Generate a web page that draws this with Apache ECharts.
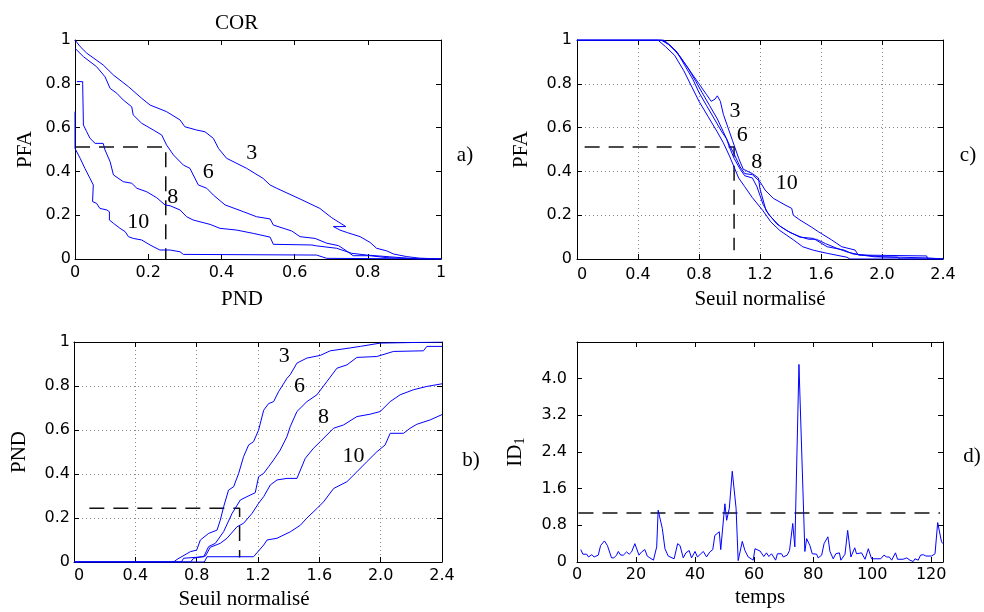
<!DOCTYPE html>
<html><head><meta charset="utf-8">
<script src="https://cdn.jsdelivr.net/npm/echarts@6/dist/echarts.min.js"></script>
<style>html,body{margin:0;padding:0;background:#fff}#c{width:984px;height:612px}</style>
</head><body><div id="c"></div>
<script>
// ---------- Panel a) COR : PFA vs PND ----------
const corCurve3 = [[0,1],[0.014,0.97],[0.032,0.94],[0.077,0.886],[0.105,0.84],[0.146,0.787],[0.182,0.734],[0.205,0.703],[0.25,0.673],[0.287,0.635],[0.3,0.604],[0.332,0.589],[0.355,0.581],[0.378,0.551],[0.392,0.505],[0.414,0.46],[0.469,0.414],[0.514,0.368],[0.533,0.338],[0.551,0.323],[0.615,0.274],[0.669,0.231],[0.701,0.189],[0.74,0.148],[0.706,0.148],[0.724,0.132],[0.745,0.12],[0.779,0.102],[0.806,0.076],[0.824,0.049],[0.852,0.037],[0.87,0.023],[0.906,0.011],[0.94,0.004],[1,0]];
const corCurve6 = [[0,0.962],[0.023,0.924],[0.059,0.878],[0.082,0.832],[0.096,0.779],[0.114,0.757],[0.132,0.726],[0.155,0.695],[0.159,0.658],[0.182,0.62],[0.214,0.589],[0.237,0.566],[0.25,0.521],[0.269,0.475],[0.296,0.429],[0.314,0.414],[0.337,0.338],[0.36,0.323],[0.378,0.292],[0.41,0.247],[0.46,0.216],[0.496,0.193],[0.533,0.183],[0.542,0.155],[0.592,0.128],[0.615,0.102],[0.656,0.094],[0.688,0.072],[0.72,0.061],[0.742,0.037],[0.76,0.015],[0.806,0.015],[0.852,0.006],[0.94,0],[1,0]];
const corCurve8 = [[0.005,0.81],[0.021,0.81],[0.021,0.798],[0.023,0.612],[0.032,0.581],[0.041,0.551],[0.055,0.528],[0.077,0.528],[0.082,0.498],[0.096,0.444],[0.105,0.384],[0.132,0.353],[0.155,0.346],[0.169,0.323],[0.196,0.307],[0.223,0.28],[0.246,0.247],[0.26,0.243],[0.287,0.224],[0.305,0.193],[0.323,0.178],[0.369,0.158],[0.396,0.14],[0.442,0.132],[0.487,0.117],[0.533,0.1],[0.542,0.067],[0.647,0.064],[0.66,0.06],[0.715,0.049],[0.756,0.026],[0.797,0.018],[0.86,0.01],[0.94,0],[1,0]];
const corCurve10 = [[0,0.673],[0,0.505],[0.005,0.498],[0.014,0.46],[0.027,0.414],[0.041,0.368],[0.05,0.338],[0.048,0.262],[0.059,0.254],[0.068,0.231],[0.087,0.224],[0.094,0.216],[0.094,0.178],[0.105,0.163],[0.123,0.14],[0.137,0.125],[0.146,0.102],[0.159,0.094],[0.182,0.087],[0.205,0.064],[0.232,0.041],[0.26,0.041],[0.287,0.033],[0.296,0.021],[0.66,0.018],[0.688,0.003],[1,0]];
const corDashed = [[0,0.511],[0.248,0.511],[0.248,0]];
const corLabelText = ['3','6','8','10'];
const corLabelAt = [[0.483,0.485],[0.364,0.394],[0.267,0.284],[0.173,0.17]];

// ---------- Panel c) PFA vs Seuil normalisé ----------
const pfaCurve3 = [[0,1],[0.55,1],[0.6,0.98],[0.65,0.95],[0.7,0.9],[0.75,0.85],[0.8,0.8],[0.85,0.75],[0.88,0.72],[0.905,0.73],[0.92,0.745],[0.94,0.72],[0.96,0.66],[0.99,0.6],[1.02,0.54],[1.06,0.46],[1.09,0.41],[1.15,0.39],[1.19,0.37],[1.2,0.32],[1.24,0.22],[1.31,0.16],[1.375,0.13],[1.46,0.1],[1.55,0.094],[1.64,0.056],[1.75,0.041],[1.81,0.023],[1.95,0.01],[2.1,0.008],[2.12,0],[2.4,0]];
const pfaCurve6 = [[0,1],[0.56,1],[0.6,0.98],[0.66,0.94],[0.71,0.88],[0.76,0.82],[0.8,0.76],[0.85,0.7],[0.9,0.64],[0.95,0.58],[0.98,0.55],[1.0,0.51],[1.03,0.46],[1.07,0.41],[1.1,0.38],[1.15,0.37],[1.18,0.33],[1.22,0.25],[1.26,0.2],[1.33,0.15],[1.4,0.12],[1.47,0.1],[1.52,0.09],[1.57,0.09],[1.63,0.07],[1.7,0.05],[1.78,0.03],[1.85,0.02],[2.0,0.01],[2.3,0.005],[2.4,0]];
const pfaCurve8 = [[0,1],[0.53,1],[0.58,0.97],[0.64,0.93],[0.7,0.86],[0.75,0.79],[0.8,0.72],[0.86,0.65],[0.92,0.58],[0.96,0.53],[1.0,0.47],[1.03,0.42],[1.06,0.37],[1.1,0.33],[1.15,0.28],[1.22,0.22],[1.27,0.17],[1.33,0.13],[1.42,0.087],[1.48,0.056],[1.55,0.04],[1.64,0.026],[1.77,0.008],[1.79,0],[2.4,0]];
const pfaCurve10 = [[0,1],[0.57,1],[0.62,0.97],[0.68,0.92],[0.73,0.87],[0.78,0.81],[0.82,0.76],[0.87,0.7],[0.92,0.64],[0.96,0.58],[1.0,0.52],[1.03,0.48],[1.07,0.42],[1.1,0.39],[1.15,0.385],[1.2,0.353],[1.233,0.315],[1.287,0.277],[1.364,0.247],[1.408,0.231],[1.418,0.2],[1.462,0.178],[1.539,0.145],[1.582,0.125],[1.67,0.087],[1.736,0.056],[1.823,0.041],[1.845,0.018],[2.293,0.014],[2.3,0],[2.4,0]];
const pfaDashed = [[0.05,0.511],[1.03,0.511],[1.03,0.04]];
const pfaLabelText = ['3','6','8','10'];
const pfaLabelAt = [[1.036,0.676],[1.084,0.563],[1.178,0.44],[1.375,0.348]];

// ---------- Panel b) PND vs Seuil normalisé ----------
const pndCurve3 = [[0,0],[0.65,0],[0.672,0.012],[0.759,0.047],[0.8,0.054],[0.824,0.1],[0.878,0.13],[0.933,0.145],[0.954,0.19],[0.976,0.251],[1.008,0.327],[1.041,0.342],[1.074,0.403],[1.106,0.479],[1.139,0.532],[1.171,0.547],[1.204,0.6],[1.237,0.69],[1.269,0.72],[1.302,0.729],[1.334,0.774],[1.389,0.835],[1.41,0.851],[1.454,0.904],[1.519,0.927],[1.606,0.939],[1.671,0.96],[1.801,0.973],[1.867,0.98],[1.997,0.995],[2.236,0.998],[2.4,1]];
const pndCurve6 = [[0,0],[0.7,0],[0.715,0.017],[0.846,0.024],[0.878,0.07],[0.922,0.085],[0.976,0.138],[1.031,0.221],[1.085,0.282],[1.128,0.297],[1.182,0.315],[1.204,0.388],[1.237,0.403],[1.269,0.433],[1.302,0.464],[1.345,0.509],[1.389,0.57],[1.41,0.615],[1.454,0.684],[1.519,0.729],[1.584,0.76],[1.649,0.82],[1.715,0.881],[1.78,0.896],[1.845,0.93],[1.975,0.934],[2.083,0.957],[2.279,0.96],[2.301,0.98],[2.4,0.98]];
const pndCurve8 = [[0,0],[0.76,0],[0.78,0.017],[0.857,0.027],[0.889,0.067],[0.954,0.085],[0.998,0.108],[1.063,0.16],[1.106,0.176],[1.161,0.221],[1.204,0.267],[1.237,0.297],[1.28,0.35],[1.324,0.373],[1.389,0.38],[1.454,0.38],[1.508,0.471],[1.562,0.517],[1.606,0.547],[1.693,0.608],[1.758,0.623],[1.845,0.661],[1.932,0.672],[1.997,0.684],[2.062,0.729],[2.127,0.76],[2.214,0.783],[2.301,0.798],[2.4,0.81]];
const pndCurve10 = [[0,0],[0.85,0],[0.868,0.024],[1.171,0.024],[1.237,0.077],[1.259,0.1],[1.324,0.108],[1.41,0.137],[1.476,0.167],[1.519,0.2],[1.584,0.243],[1.627,0.273],[1.693,0.334],[1.78,0.365],[1.845,0.41],[1.91,0.456],[1.975,0.501],[2.029,0.532],[2.062,0.585],[2.149,0.585],[2.192,0.608],[2.236,0.626],[2.323,0.646],[2.4,0.67]];
const pndDashed = [[0.1,0.244],[1.08,0.244],[1.08,0.02]];
const pndLabelText = ['3','6','8','10'];
const pndLabelAt = [[1.371,0.937],[1.471,0.8],[1.627,0.656],[1.823,0.482]];

// ---------- Panel d) ID1 vs temps ----------
const idTime = [1.3,2,3.3,3.9,5,5.8,7.2,8,9.3,10.3,
 11.7,12.5,13.4,14,14.8,15.7,16.8,17.7,18.5,19.6,
 21,21.9,23,23.8,24.7,25.9,27,27.5,28.9,29.8,
 30.9,32.9,34.1,34.9,36,36.9,38,38.8,40,40.8,
 42.8,43.9,45,46,46.7,48.2,48.7,50.1,50.7,51.6,
 52.6,53.9,54.6,56,56.9,58,58.6,59.7,60.3,62,
 63.3,64.2,65,65.9,67.3,67.9,69.3,69.9,71.2,72,
 73.1,73.8,75.2,77.2,77.8,78.9,79.7,81.2,81.7,82.9,
 83.7,85,85.7,86.8,87.7,88.9,89.4,90.8,91.7,92.8,
 94.1,94.7,96.4,97.6,98.1,98.7,99.8,102.9,104,104.9,
 105.8,106.6,107.9,108.6,110.5,111.7,112.8,113.9,114.5,115.6,
 116.4,117.3,118.2,120.1,121.3,122.2,123.5,124];
const idValue = [0.27,0.17,0.17,0.11,0.16,0.11,0.15,0.36,0.46,0.36,
 0.09,0.09,0.15,0.23,0.15,0.15,0.22,0.17,0.22,0.4,
 0.15,0.22,0.27,0.13,0.09,0.04,0.33,1.13,0.73,0.29,
 0.13,0.07,0.4,0.36,0.09,0.2,0.25,0.09,0.23,0.11,
 0.23,0.11,0.22,0.27,0.58,0.66,0.27,1.27,0.91,1.17,
 1.98,1.17,0.03,0.45,0.25,0.11,0.15,0.04,0.29,0.24,
 0.12,0.2,0.12,0.18,0.04,0.18,0.18,0.11,0.15,0.25,
 0.84,0.33,4.31,0.23,0.51,0.36,0.18,0.17,0.09,0.15,
 0.4,0.55,0.23,0.07,0.18,0.2,0.04,0.17,0.69,0.11,
 0.31,0.18,0.2,0.06,0.04,0.29,0.07,0.07,0.15,0.11,
 0.11,0.04,0.2,0.06,0.06,0.09,0.04,0.01,0.07,0.04,
 0.15,0.16,0.13,0.13,0.18,0.86,0.44,0.4];
const idThreshold = 1.07;
const idThresholdSpan = [0.5,123];

// ---------- Texts ----------
const titleText = 'COR';
const panelLetters = ['a)','b)','c)','d)'];

// ================= chart =================
const BLUE = '#0000ff';
const SANS = 'DejaVu Sans';
const SERIF = 'Liberation Serif';
const grids = [
  {left:75, top:40, width:366, height:219},   // a
  {left:577, top:40, width:366, height:219},  // c
  {left:74, top:342, width:368, height:220},  // b
  {left:577, top:342, width:366, height:220}  // d
];
const fmtA = v => String(Math.round(v*10)/10);
const fmt1 = v => (Math.abs(v) < 1e-9 ? '0' : (Math.round(v*10)/10).toFixed(1));
const fmtD = v => (v > 4.5 ? '' : fmt1(v));
const fmtInt = v => String(Math.round(v));

function mainX(gi, min, max, interval, fmt, name, nameGap, margin, grid, padding, alignMin) {
  return {
    type:'value', gridIndex:gi, min, max, interval, position:'bottom',
    axisLine:{show:true, onZero:false, lineStyle:{color:'#000', width:1}},
    axisTick:{show:true, inside:true, length:5, lineStyle:{color:'#000'}},
    axisLabel:{show:true, formatter:fmt, color:'#000', fontFamily:SANS, fontSize:16, margin, alignMinLabel: alignMin ? 'left' : 'center'},
    splitLine:{show:grid, lineStyle:{color:'#8a8a8a', type:[1,3], width:1}},
    name, nameLocation:'middle', nameGap,
    nameTextStyle:{fontFamily:SERIF, fontSize:21, color:'#000', padding: padding || 0}
  };
}
function mainY(gi, min, max, interval, fmt, name, nameGap, margin, grid, nameRich) {
  const o = {
    type:'value', gridIndex:gi, min, max, interval, position:'left',
    axisLine:{show:true, onZero:false, lineStyle:{color:'#000', width:1}},
    axisTick:{show:true, inside:true, length:5, lineStyle:{color:'#000'}},
    axisLabel:{show:true, formatter:fmt, color:'#000', fontFamily:SANS, fontSize:16, margin},
    splitLine:{show:grid, lineStyle:{color:'#8a8a8a', type:[1,3], width:1}},
    name, nameLocation:'middle', nameGap, nameRotate:90,
    nameTextStyle:{fontFamily:SERIF, fontSize:21, color:'#000'}
  };
  if (nameRich) o.nameTextStyle.rich = nameRich;
  return o;
}
function sideX(gi, min, max, interval) {
  return {type:'value', gridIndex:gi, min, max, interval, position:'top',
    axisLine:{show:true, onZero:false, lineStyle:{color:'#000', width:1}},
    axisTick:{show:true, inside:true, length:5, lineStyle:{color:'#000'}},
    axisLabel:{show:false}, splitLine:{show:false}};
}
function sideY(gi, min, max, interval) {
  return {type:'value', gridIndex:gi, min, max, interval, position:'right',
    axisLine:{show:true, onZero:false, lineStyle:{color:'#000', width:1}},
    axisTick:{show:true, inside:true, length:5, lineStyle:{color:'#000'}},
    axisLabel:{show:false}, splitLine:{show:false}};
}

const xAxis = [
  mainX(0, 0, 1, 0.2, fmtA, 'PND', 30, 6, false, [0,32,0,0], false),
  mainX(1, 0, 2.4, 0.4, fmt1, 'Seuil normalisé', 30, 8, true, 0, true),
  mainX(2, 0, 2.4, 0.4, fmt1, 'Seuil normalisé', 27, 6, true, [0,28,0,0], true),
  mainX(3, 0, 124, 20, fmtInt, 'temps', 25, 5, false, 0, false),
  sideX(0, 0, 1, 0.2), sideX(1, 0, 2.4, 0.4), sideX(2, 0, 2.4, 0.4), sideX(3, 0, 124, 20)
];
const yAxis = [
  mainY(0, 0, 1, 0.2, fmtA, 'PFA', 39, 4, false),
  mainY(1, 0, 1, 0.2, fmtA, 'PFA', 45, 5, true),
  mainY(2, 0, 1, 0.2, fmtA, 'PND', 44, 4, true),
  mainY(3, 0, 4.8, 0.8, fmtD, '{m|ID}{s|1}', 49, 10, false,
        {m:{fontFamily:SERIF, fontSize:21, color:'#000'}, s:{fontFamily:SERIF, fontSize:15, color:'#000', padding:[10,0,0,0]}}),
  sideY(0, 0, 1, 0.2), sideY(1, 0, 1, 0.2), sideY(2, 0, 1, 0.2), sideY(3, 0, 4.8, 0.8)
];

function curve(data, xi, yi) {
  return {type:'line', xAxisIndex:xi, yAxisIndex:yi, data, showSymbol:false, symbol:'none',
    lineStyle:{color:BLUE, width:1}, z:3, animation:false};
}
function dashed(data, xi, yi) {
  return {type:'line', xAxisIndex:xi, yAxisIndex:yi, data, showSymbol:false, symbol:'none',
    lineStyle:{color:'#111', width:1.5, type:[15,9]}, z:2, animation:false};
}
function labels(texts, at, xi, yi) {
  return {type:'scatter', xAxisIndex:xi, yAxisIndex:yi, symbolSize:1, z:5, animation:false,
    itemStyle:{color:'#ffffff', opacity:0},
    data: texts.map((t, i) => ({name:t, value:at[i]})),
    label:{show:true, position:'inside', formatter:'{b}', color:'#000', opacity:1,
      textBorderWidth:0, textShadowBlur:0, fontFamily:SERIF, fontSize:22}};
}

const series = [
  curve(corCurve3,0,0), curve(corCurve6,0,0), curve(corCurve8,0,0), curve(corCurve10,0,0),
  dashed(corDashed,0,0), labels(corLabelText, corLabelAt, 0, 0),
  curve(pfaCurve3,1,1), curve(pfaCurve6,1,1), curve(pfaCurve8,1,1), curve(pfaCurve10,1,1),
  dashed(pfaDashed,1,1), labels(pfaLabelText, pfaLabelAt, 1, 1),
  curve(pndCurve3,2,2), curve(pndCurve6,2,2), curve(pndCurve8,2,2), curve(pndCurve10,2,2),
  dashed(pndDashed,2,2), labels(pndLabelText, pndLabelAt, 2, 2),
  curve(idTime.map((t,i) => [t, idValue[i]]), 3, 3),
  dashed(idThresholdSpan.map(t => [t, idThreshold]), 3, 3)
];

const letterPos = [[465,155],[471,460],[968,155],[972,456]];
const graphic = panelLetters.map((t, i) => ({
  type:'text', x:letterPos[i][0], y:letterPos[i][1],
  style:{text:t, fill:'#000', font:'21px "Liberation Serif"', align:'center', verticalAlign:'middle'}
}));

const chart = echarts.init(document.getElementById('c'), null, {renderer:'canvas'});
chart.setOption({
  animation:false,
  backgroundColor:'#fff',
  title:{text:titleText, left:210, top:8, textStyle:{fontFamily:SERIF, fontSize:21, fontWeight:'normal', color:'#000'}},
  grid: grids.map(g => Object.assign({containLabel:false}, g)),
  xAxis, yAxis, series, graphic
});
</script></body></html>
